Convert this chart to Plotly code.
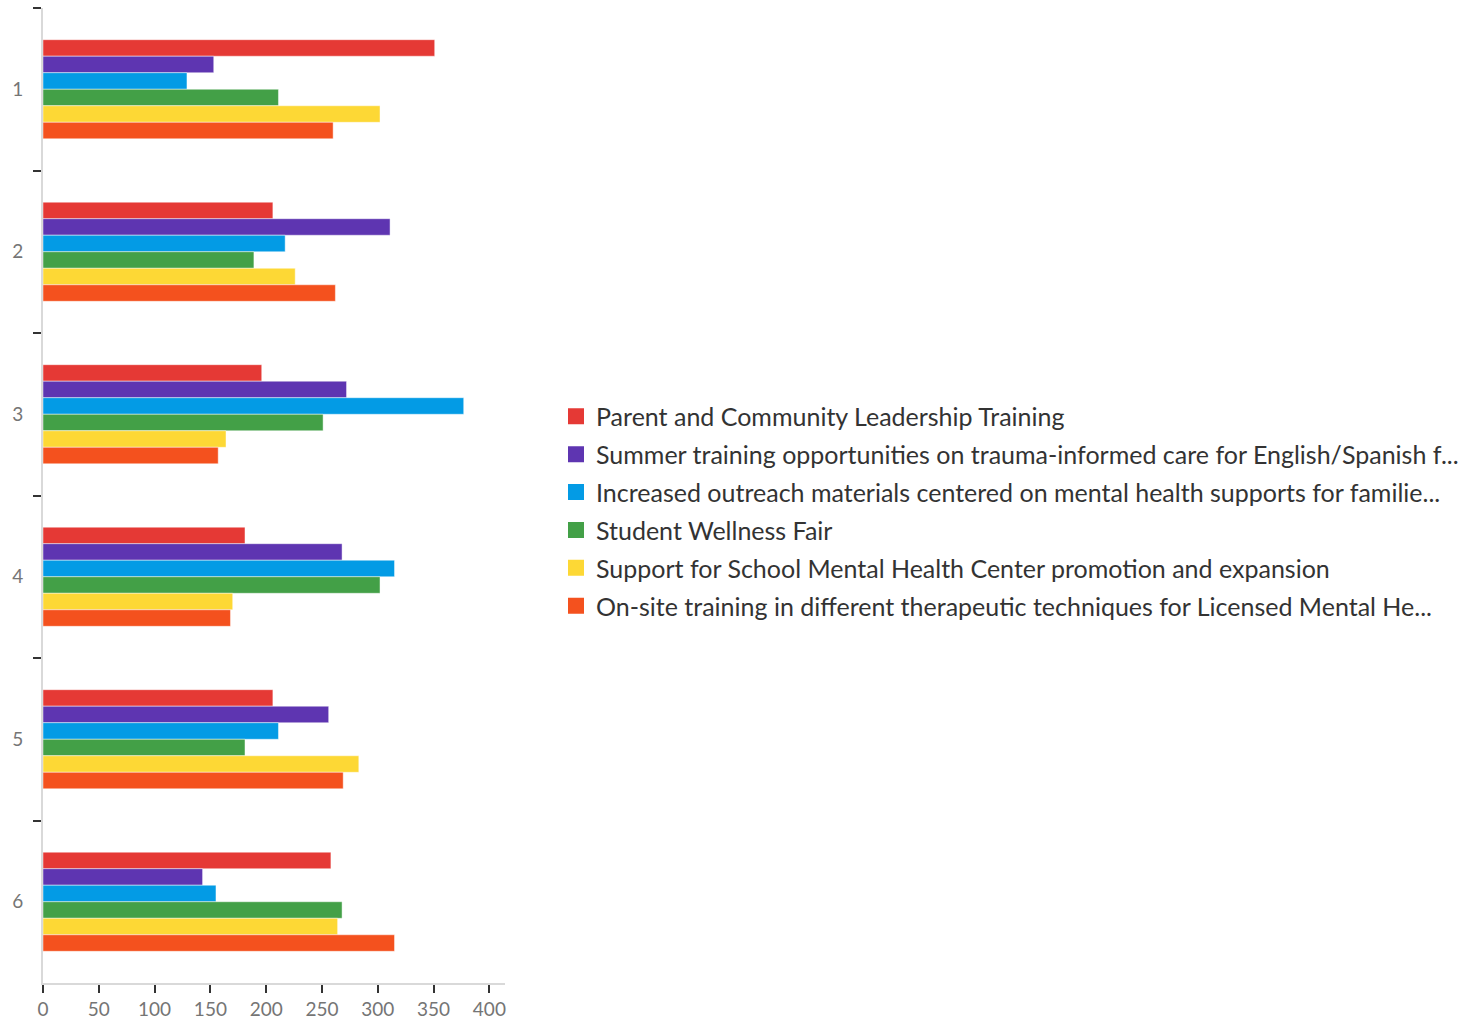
import plotly.graph_objects as go

categories = ["1", "2", "3", "4", "5", "6"]

series_names = [
    "Parent and Community Leadership Training",
    "Summer training opportunities on trauma-informed care for English/Spanish f...",
    "Increased outreach materials centered on mental health supports for familie...",
    "Student Wellness Fair",
    "Support for School Mental Health Center promotion and expansion",
    "On-site training in different therapeutic techniques for Licensed Mental He...",
]

parent_leadership = [351, 206, 196, 181, 206, 258]
summer_training = [153, 311, 272, 268, 256, 143]
outreach_materials = [129, 217, 377, 315, 211, 155]
wellness_fair = [211, 189, 251, 302, 181, 268]
school_mh_center = [302, 226, 164, 170, 283, 264]
onsite_training = [260, 262, 157, 168, 269, 315]

series_values = [
    parent_leadership,
    summer_training,
    outreach_materials,
    wellness_fair,
    school_mh_center,
    onsite_training,
]

colors = ["#E53935", "#5E35B1", "#039BE5", "#43A047", "#FDD835", "#F4511E"]

x_ticks = [0, 50, 100, 150, 200, 250, 300, 350, 400]

fig = go.Figure()
for name, vals, col in zip(series_names, series_values, colors):
    fig.add_trace(go.Bar(
        y=categories, x=vals, name=name, orientation="h",
        marker=dict(color=col, line=dict(color="rgba(255,255,255,0.45)", width=1)),
        showlegend=False,
    ))
# legend entries with larger square swatches
for i, (name, col) in enumerate(zip(series_names, colors)):
    fig.add_trace(go.Scatter(
        x=[None], y=[None], mode="markers", name=name,
        marker=dict(symbol="square", size=20, color=col),
        legendgroup=f"g{i}", showlegend=True,
    ))

W, H = 1482, 1021
left, right_edge, top, bottom_edge = 43, 505, 8, 983

fig.update_layout(
    width=W, height=H,
    barmode="group", bargap=0.39, bargroupgap=0,
    plot_bgcolor="white", paper_bgcolor="white",
    margin=dict(l=left, r=W - right_edge, t=top, b=H - bottom_edge, autoexpand=False),
    font=dict(family="Lato", color="#757575"),
    showlegend=True,
    legend=dict(
        x=(556 - left) / (right_edge - left), xanchor="left",
        y=1 - (511 - top) / (bottom_edge - top), yanchor="middle",
        font=dict(size=25, color="#333333", family="Lato"),
        itemwidth=30,
        traceorder="grouped",
        tracegroupgap=2.4,
    ),
)

fig.update_yaxes(
    type="category", autorange="reversed",
    showline=True, linecolor="#d9d9d9", linewidth=2,
    ticks="outside", tickson="boundaries", ticklen=8, tickcolor="#333333", tickwidth=2,
    ticklabelstandoff=14,
    tickfont=dict(size=19, color="#757575", family="Lato"),
    showgrid=False, zeroline=False,
)
fig.update_xaxes(
    range=[0, 414], tickvals=x_ticks,
    showline=True, linecolor="#d9d9d9", linewidth=2,
    ticks="outside", ticklen=8, tickcolor="#333333", tickwidth=2,
    tickfont=dict(size=19, color="#757575", family="Lato"),
    showgrid=False, zeroline=False,
)

fig.write_html("out.html", config={"displayModeBar": False},
               post_script="document.body.style.margin='0';")
